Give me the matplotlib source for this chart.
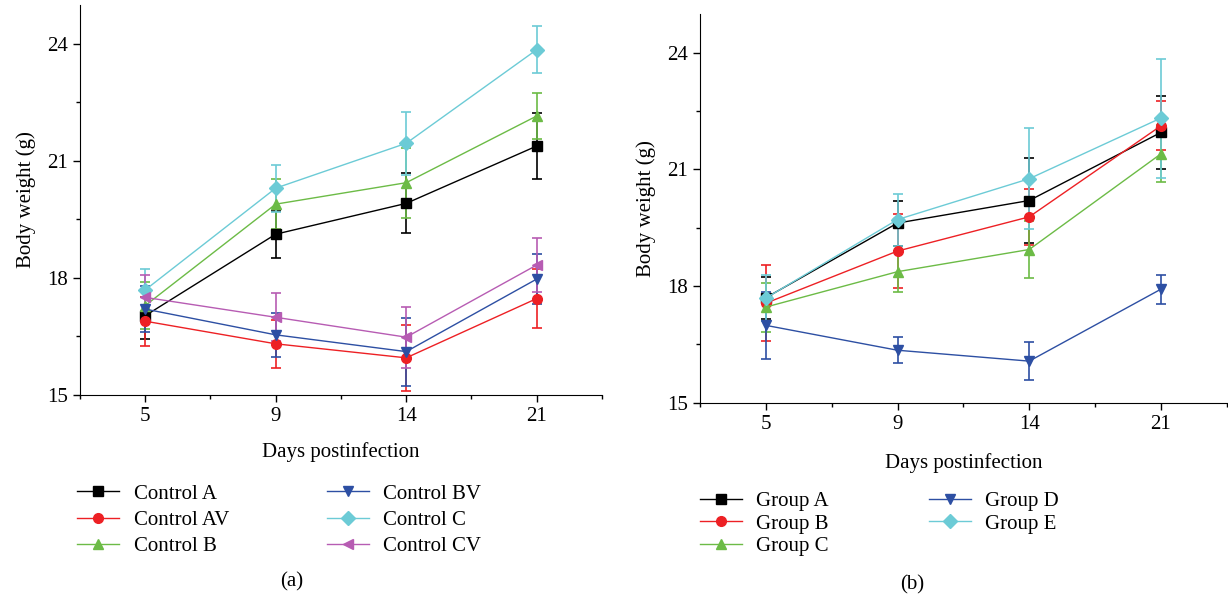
import numpy as np
import matplotlib
matplotlib.use('Agg')
import matplotlib.pyplot as plt
from matplotlib.ticker import MultipleLocator
from matplotlib.lines import Line2D

plt.rcParams['font.family'] = ['Liberation Serif', 'DejaVu Serif']
plt.rcParams['font.size'] = 15

## Data
days = ['5', '9', '14', '21']

ctrl_names = ['Control A', 'Control AV', 'Control B', 'Control BV', 'Control C', 'Control CV']
ctrl_A = [17.03, 19.12, 19.91, 21.38]
ctrl_A_err = [0.6, 0.6, 0.77, 0.85]
ctrl_AV = [16.89, 16.31, 15.95, 17.47]
ctrl_AV_err = [0.63, 0.62, 0.84, 0.76]
ctrl_B = [17.29, 19.89, 20.44, 22.15]
ctrl_B_err = [0.6, 0.64, 0.9, 0.6]
ctrl_BV = [17.20, 16.54, 16.11, 17.97]
ctrl_BV_err = [0.6, 0.57, 0.87, 0.64]
ctrl_C = [17.69, 20.30, 21.45, 23.85]
ctrl_C_err = [0.53, 0.6, 0.8, 0.61]
ctrl_CV = [17.50, 16.99, 16.48, 18.33]
ctrl_CV_err = [0.57, 0.61, 0.78, 0.69]

grp_names = ['Group A', 'Group B', 'Group C', 'Group D', 'Group E']
grp_A = [17.70, 19.62, 20.20, 21.95]
grp_A_err = [0.54, 0.58, 1.1, 0.93]
grp_B = [17.56, 18.90, 19.78, 22.12]
grp_B_err = [0.97, 0.96, 0.72, 0.63]
grp_C = [17.46, 18.37, 18.94, 21.40]
grp_C_err = [0.63, 0.53, 0.74, 0.73]
grp_D = [16.99, 16.35, 16.07, 17.92]
grp_D_err = [0.86, 0.33, 0.48, 0.37]
grp_E = [17.69, 19.71, 20.76, 22.32]
grp_E_err = [0.6, 0.67, 1.3, 1.53]

## Styles
black = '#000000'
red = '#ed2024'
green = '#6cbb46'
blue = '#2d4fa3'
cyan = '#6ccbd6'
magenta = '#b75cb3'

x = np.arange(len(days))

fig = plt.figure(figsize=(12.28, 6.02), dpi=100)
ax1 = fig.add_axes([0.0651, 0.344, 0.4251, 0.648])
ax2 = fig.add_axes([0.570, 0.331, 0.429, 0.646])


def series(ax, y, e, color, marker, label):
    ax.errorbar(x, y, yerr=e, color=color, marker=marker, markersize=7,
                lw=1, elinewidth=1.2, capsize=3.5, capthick=1.2)
    return Line2D([], [], color=color, marker=marker, markersize=7, lw=1, label=label)


h1 = [
    series(ax1, ctrl_A, ctrl_A_err, black, 's', ctrl_names[0]),
    series(ax1, ctrl_AV, ctrl_AV_err, red, 'o', ctrl_names[1]),
    series(ax1, ctrl_B, ctrl_B_err, green, '^', ctrl_names[2]),
    series(ax1, ctrl_BV, ctrl_BV_err, blue, 'v', ctrl_names[3]),
    series(ax1, ctrl_C, ctrl_C_err, cyan, 'D', ctrl_names[4]),
    series(ax1, ctrl_CV, ctrl_CV_err, magenta, '<', ctrl_names[5]),
]

h2 = [
    series(ax2, grp_A, grp_A_err, black, 's', grp_names[0]),
    series(ax2, grp_B, grp_B_err, red, 'o', grp_names[1]),
    series(ax2, grp_C, grp_C_err, green, '^', grp_names[2]),
    series(ax2, grp_D, grp_D_err, blue, 'v', grp_names[3]),
    series(ax2, grp_E, grp_E_err, cyan, 'D', grp_names[4]),
]

for ax in (ax1, ax2):
    ax.set_xlim(-0.5, 3.5)
    ax.set_ylim(15, 25)
    ax.set_xticks(x)
    ax.set_xticklabels(days)
    ax.xaxis.set_minor_locator(MultipleLocator(0.5))
    ax.set_yticks([15, 18, 21, 24])
    ax.yaxis.set_minor_locator(MultipleLocator(1.5))
    ax.spines['top'].set_visible(False)
    ax.spines['right'].set_visible(False)
    ax.tick_params(which='major', direction='out', length=5, width=1)
    ax.tick_params(which='minor', direction='out', length=3, width=1)
    ax.set_ylabel('Body weight (g)', labelpad=8)
ax1.set_xlabel('Days postinfection', labelpad=12)
ax2.set_xlabel('Days postinfection', labelpad=14)

ax1.legend(handles=h1, loc='upper left', bbox_to_anchor=(0.063, 0.196), bbox_transform=fig.transFigure,
           ncol=2, frameon=False, handlelength=2.0, handletextpad=0.7,
           columnspacing=4.7, labelspacing=0.32, borderaxespad=0, borderpad=0)
ax2.legend(handles=h2, loc='upper left', bbox_to_anchor=(0.570, 0.184), bbox_transform=fig.transFigure,
           ncol=2, frameon=False, handlelength=2.0, handletextpad=0.7,
           columnspacing=4.8, labelspacing=0.15, borderaxespad=0, borderpad=0)

fig.text(292 / 1228, 1 - 582 / 602, '(a)', ha='center', va='center')
fig.text(912 / 1228, 1 - 585 / 602, '(b)', ha='center', va='center')

fig.savefig('out.png', dpi=100)
